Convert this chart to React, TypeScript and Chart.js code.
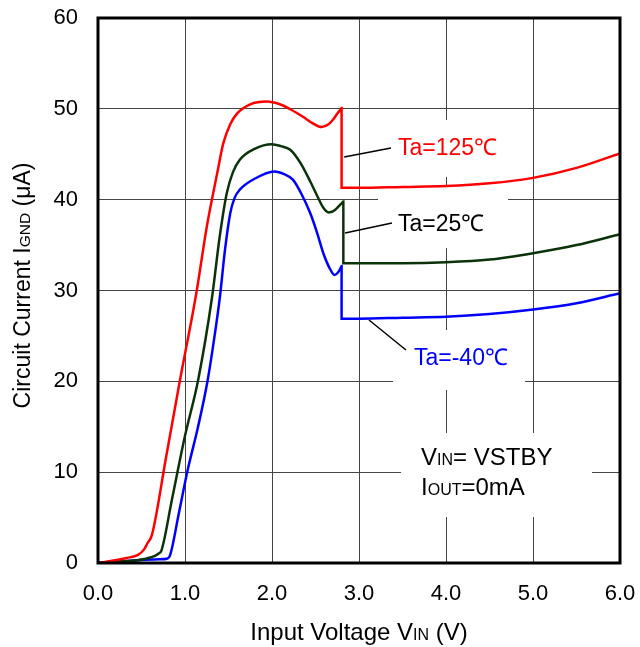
import React, { useEffect, useRef } from "react";
import { Chart, registerables } from "chart.js";

Chart.register(...registerables);

const FONT = '"Liberation Sans", Arial, Helvetica, sans-serif';
const TICK = 22;
const TITLE = 24;
const TITLE_SUB = 16;
const YTITLE = 23;
const YTITLE_SUB = 15.5;
const LABEL = 23;

// Axis ticks
const xTickValues = [0, 1, 2, 3, 4, 5, 6];
const yTickValues = [0, 10, 20, 30, 40, 50, 60];

type Pt = [number, number];

// Ta = 125 °C
const ta125: Pt[] = [
  [0, 0], [0.2, 0.3], [0.33, 0.55], [0.46, 0.9], [0.53, 1.5], [0.57, 2.2], [0.62, 3.1],
  [0.78, 11.5], [0.94, 20], [1.13, 29.7], [1.25, 37], [1.37, 42.9], [1.44, 46.2], [1.52, 48.3],
  [1.6, 49.5], [1.75, 50.5], [1.94, 50.8], [2.09, 50.5], [2.22, 49.9], [2.36, 49.1],
  [2.47, 48.4], [2.57, 48.0], [2.65, 48.3], [2.7, 48.8], [2.76, 49.6], [2.79, 49.95], [2.8, 50.1],
  [2.8, 41.3], [3.0, 41.3], [3.5, 41.4], [4.0, 41.5], [4.5, 41.8], [5.0, 42.4], [5.5, 43.5], [6.0, 45.1],
];

// Ta = 25 °C
const ta25: Pt[] = [
  [0, 0], [0.2, 0.15], [0.45, 0.3], [0.6, 0.6], [0.69, 1.0], [0.73, 1.4], [0.85, 7],
  [1.0, 14.0], [1.15, 20.1], [1.31, 29.2], [1.4, 36], [1.48, 40.7], [1.55, 43], [1.63, 44.4],
  [1.8, 45.6], [2.0, 46.1], [2.1, 45.9], [2.21, 45.5], [2.33, 44], [2.44, 42.0], [2.52, 40.4],
  [2.59, 39.1], [2.65, 38.6], [2.7, 38.7], [2.76, 39.2], [2.81, 39.7], [2.82, 39.8],
  [2.82, 33.0], [3.0, 33.0], [3.5, 33.0], [4.0, 33.1], [4.5, 33.4], [5.0, 34.1], [5.5, 35.0], [6.0, 36.2],
];

// Ta = -40 °C
const taM40: Pt[] = [
  [0, 0], [0.2, 0.15], [0.46, 0.3], [0.7, 0.4], [0.8, 0.5], [0.83, 0.9], [0.93, 5.5],
  [1.03, 10.2], [1.15, 15], [1.26, 20.1], [1.34, 25], [1.4, 29.2], [1.46, 34.5], [1.52, 38.5],
  [1.57, 40.2], [1.63, 41.1], [1.8, 42.3], [2.03, 43.1], [2.14, 42.8], [2.24, 42.2], [2.34, 40.6],
  [2.44, 38.5], [2.52, 36.3], [2.59, 34.1], [2.66, 32.5], [2.72, 31.7], [2.76, 32.0], [2.79, 32.5], [2.8, 32.7],
  [2.8, 26.9], [3.0, 26.9], [3.5, 27.0], [4.0, 27.1], [4.5, 27.4], [5.0, 27.9], [5.5, 28.6], [6.0, 29.7],
];

const seriesNames = ["Ta=125℃", "Ta=25℃", "Ta=-40℃"];
const seriesColors = ["#ff0000", "#0a330a", "#0000ff"];

// Annotation labels (data coordinates)
const labelX = [3.448, 3.448, 3.632];
const labelY = [45.8, 37.43, 22.68];
const leaderLines: [number, number, number, number][] = [
  [2.83, 44.7, 3.368, 45.69],
  [2.84, 36.33, 3.379, 37.43],
  [3.115, 26.75, 3.54, 23.45],
];
// White boxes behind labels [x0, y0, x1, y1]
const labelBoxes: [number, number, number, number][] = [
  [3.218, 48.77, 4.713, 42.5],
  [3.218, 41.39, 4.713, 34.68],
  [3.391, 25.65, 4.908, 19.05],
  [3.483, 14.31, 5.678, 5.06],
];
const condX = 3.713;
const condY = [11.67, 8.37];

type Part = [string, number];

function drawRich(
  ctx: CanvasRenderingContext2D,
  parts: Part[],
  x: number,
  y: number,
  align: "left" | "center",
  color: string
) {
  ctx.save();
  ctx.textBaseline = "alphabetic";
  ctx.textAlign = "left";
  ctx.fillStyle = color;
  let total = 0;
  for (const [t, s] of parts) {
    ctx.font = `${s}px ${FONT}`;
    total += ctx.measureText(t).width;
  }
  let cx = align === "center" ? x - total / 2 : x;
  for (const [t, s] of parts) {
    ctx.font = `${s}px ${FONT}`;
    ctx.fillText(t, cx, y);
    cx += ctx.measureText(t).width;
  }
  ctx.restore();
}

const decorPlugin = {
  id: "decor",
  beforeDatasetsDraw(chart: any) {
    const { ctx, scales } = chart;
    const xs = scales.x;
    const ys = scales.y;
    ctx.save();
    ctx.fillStyle = "#ffffff";
    for (const b of labelBoxes) {
      const x0 = xs.getPixelForValue(b[0]);
      const x1 = xs.getPixelForValue(b[2]);
      const y0 = ys.getPixelForValue(b[1]);
      const y1 = ys.getPixelForValue(b[3]);
      ctx.fillRect(x0, y0, x1 - x0, y1 - y0);
    }
    ctx.restore();
  },
  afterDatasetsDraw(chart: any) {
    const { ctx, scales, chartArea } = chart;
    const xs = scales.x;
    const ys = scales.y;
    ctx.save();
    // frame
    ctx.strokeStyle = "#000";
    ctx.lineWidth = 3;
    ctx.strokeRect(chartArea.left, chartArea.top, chartArea.right - chartArea.left, chartArea.bottom - chartArea.top);
    // leader lines
    ctx.lineWidth = 1.5;
    for (const l of leaderLines) {
      ctx.beginPath();
      ctx.moveTo(xs.getPixelForValue(l[0]), ys.getPixelForValue(l[1]));
      ctx.lineTo(xs.getPixelForValue(l[2]), ys.getPixelForValue(l[3]));
      ctx.stroke();
    }
    ctx.restore();
    // series labels
    const labelColors = ["#ff0000", "#000000", "#0000ff"];
    seriesNames.forEach((name, i) => {
      drawRich(ctx, [[name, LABEL]], xs.getPixelForValue(labelX[i]), ys.getPixelForValue(labelY[i]) + 8, "left", labelColors[i]);
    });
    // conditions
    drawRich(ctx, [["V", TITLE], ["IN", TITLE_SUB], ["= VSTBY", TITLE]], xs.getPixelForValue(condX), ys.getPixelForValue(condY[0]) + 8.5, "left", "#000");
    drawRich(ctx, [["I", TITLE], ["OUT", TITLE_SUB], ["=0mA", TITLE]], xs.getPixelForValue(condX), ys.getPixelForValue(condY[1]) + 8.5, "left", "#000");
    // axis titles
    const cxm = (chartArea.left + chartArea.right) / 2;
    drawRich(ctx, [["Input Voltage V", TITLE], ["IN", TITLE_SUB], [" (V)", TITLE]], cxm, 640, "center", "#000");
    const cym = (chartArea.top + chartArea.bottom) / 2 - 5;
    ctx.save();
    ctx.translate(22, cym);
    ctx.rotate(-Math.PI / 2);
    drawRich(ctx, [["Circuit Current I", YTITLE], ["GND", YTITLE_SUB], [" (μA)", YTITLE]], 0, 8, "center", "#000");
    ctx.restore();
  },
};

export default function App() {
  const ref = useRef<HTMLCanvasElement | null>(null);
  useEffect(() => {
    if (!ref.current) return;
    const all = [ta125, ta25, taM40];
    const chart = new Chart(ref.current, {
      type: "line",
      data: {
        datasets: all.map((s, i) => ({
          label: seriesNames[i],
          data: s.map(([x, y]) => ({ x, y })),
          borderColor: seriesColors[i],
          backgroundColor: seriesColors[i],
          borderWidth: 2.5,
          pointRadius: 0,
          cubicInterpolationMode: "monotone",
          fill: false,
        })),
      },
      options: {
        responsive: false,
        animation: false,
        events: [],
        layout: { padding: { left: 0, top: 18, right: 20, bottom: 0 } },
        plugins: { legend: { display: false }, tooltip: { enabled: false }, title: { display: false } },
        scales: {
          x: {
            type: "linear",
            min: xTickValues[0],
            max: xTickValues[xTickValues.length - 1],
            afterBuildTicks: (scale: any) => {
              scale.ticks = xTickValues.map((v) => ({ value: v }));
            },
            afterFit: (scale: any) => {
              scale.height = 84;
              scale.paddingLeft = 0;
              scale.paddingRight = 0;
            },
            grid: { color: "#444", lineWidth: 1, drawTicks: false },
            border: { display: false },
            ticks: {
              color: "#000",
              font: { family: FONT, size: TICK },
              padding: 18,
              maxRotation: 0,
              callback: (v: any) => Number(v).toFixed(1),
            },
          },
          y: {
            type: "linear",
            min: yTickValues[0],
            max: yTickValues[yTickValues.length - 1],
            afterBuildTicks: (scale: any) => {
              scale.ticks = yTickValues.map((v) => ({ value: v }));
            },
            afterFit: (scale: any) => {
              scale.width = 98;
              scale.paddingTop = 0;
              scale.paddingBottom = 0;
            },
            grid: { color: "#444", lineWidth: 1, drawTicks: false },
            border: { display: false },
            ticks: {
              color: "#000",
              font: { family: FONT, size: TICK },
              padding: 20,
              callback: (v: any) => String(v),
            },
          },
        },
      },
      plugins: [decorPlugin],
    });
    return () => chart.destroy();
  }, []);
  return (
    <div style={{ position: "absolute", left: 0, top: 0, width: 640, height: 647, background: "#fff" }}>
      <canvas ref={ref} width={640} height={647} style={{ display: "block" }} />
    </div>
  );
}
